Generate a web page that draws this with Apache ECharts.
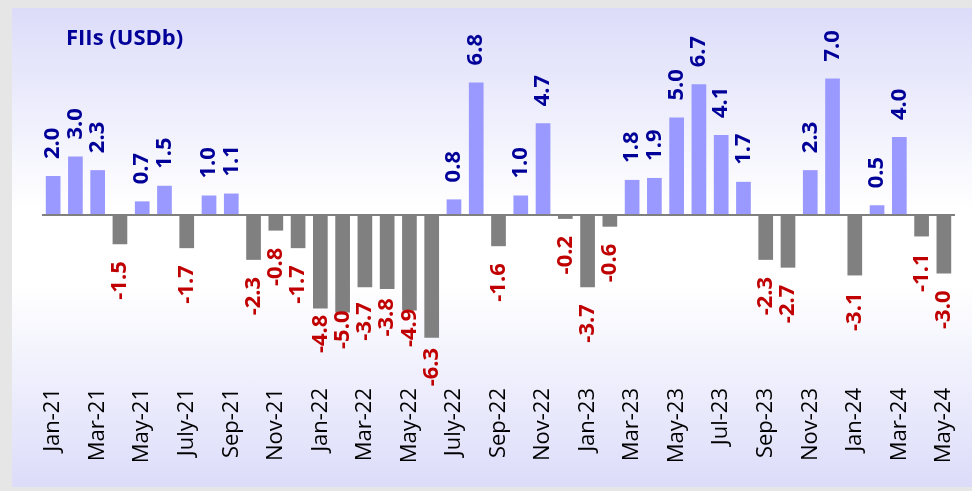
<!DOCTYPE html>
<html lang="en">
<head>
    <meta charset="UTF-8">
    <title>FIIs (USDb)</title>
    <style>
        body { margin: 0; background: #e6e6e6; }
        #panel {
            position: absolute; left: 12px; top: 8px; width: 960px; height: 479px;
            background: linear-gradient(to bottom, #dcdcfa 0%, #ffffff 42%, #ffffff 58%, #dcdcfa 100%);
        }
        #main { position: absolute; left: 0; top: 0; width: 972px; height: 491px; }
    </style>
</head>
<body>
    <div id="panel"></div>
    <div id="main"></div>

    <script src="https://cdn.jsdelivr.net/npm/echarts@6/dist/echarts.min.js"></script>
    <script type="text/javascript">
        // months Jan-21 .. May-24
        var months = ['Jan-21','Feb-21','Mar-21','Apr-21','May-21','Jun-21','July-21','Aug-21','Sep-21','Oct-21','Nov-21','Dec-21',
                      'Jan-22','Feb-22','Mar-22','Apr-22','May-22','Jun-22','July-22','Aug-22','Sep-22','Oct-22','Nov-22','Dec-22',
                      'Jan-23','Feb-23','Mar-23','Apr-23','May-23','Jun-23','Jul-23','Aug-23','Sep-23','Oct-23','Nov-23','Dec-23',
                      'Jan-24','Feb-24','Mar-24','Apr-24','May-24'];
        var flows = [2.0, 3.0, 2.3, -1.5, 0.7, 1.5, -1.7, 1.0, 1.1, -2.3, -0.8, -1.7,
                     -4.8, -5.0, -3.7, -3.8, -4.9, -6.3, 0.8, 6.8, -1.6, 1.0, 4.7, -0.2,
                     -3.7, -0.6, 1.8, 1.9, 5.0, 6.7, 4.1, 1.7, -2.3, -2.7, 2.3, 7.0,
                     -3.1, 0.5, 4.0, -1.1, -3.0];

        // labels that were nudged closer to the bar in the original
        var labelGap = {12: 6, 13: -2, 14: 15, 15: 9, 16: -2, 17: 10};

        var myChart = echarts.init(document.getElementById('main'));

        var barData = flows.map(function (v, i) {
            var neg = v < 0;
            return {
                value: v,
                itemStyle: { color: neg ? '#808080' : '#9999ff' },
                label: {
                    position: neg ? 'bottom' : 'top',
                    align: neg ? 'right' : 'left',
                    color: neg ? '#c00000' : '#000099',
                    distance: labelGap[i] !== undefined ? labelGap[i] : 17
                }
            };
        });

        var option = {
            backgroundColor: 'transparent',
            title: {
                text: 'FIIs (USDb)',
                left: 61, top: 23,
                textStyle: { fontFamily: 'Open Sans', fontSize: 22, fontWeight: 'bold', color: '#000099' }
            },
            grid: { left: 42, right: 17, top: 59, bottom: 120 },
            xAxis: {
                type: 'category',
                data: months,
                axisLine: { show: false, onZero: false },
                axisTick: { show: false },
                axisLabel: {
                    interval: 1, rotate: 90, margin: 17,
                    fontFamily: 'Open Sans', fontSize: 22, color: '#000'
                }
            },
            yAxis: {
                type: 'value', min: -8, max: 8,
                show: false, splitLine: { show: false }
            },
            series: [{
                type: 'bar',
                data: barData,
                barCategoryGap: '34%',
                label: {
                    show: true, rotate: 90, verticalAlign: 'middle',
                    fontFamily: 'Open Sans', fontSize: 22, fontWeight: 'bold',
                    formatter: function (p) { return p.value.toFixed(1); }
                },
                markLine: {
                    silent: true, symbol: 'none', label: { show: false },
                    lineStyle: { color: '#808080', type: 'solid', width: 2 },
                    data: [{ yAxis: 0 }]
                }
            }]
        };
        myChart.setOption(option);
    </script>
</body>
</html>
